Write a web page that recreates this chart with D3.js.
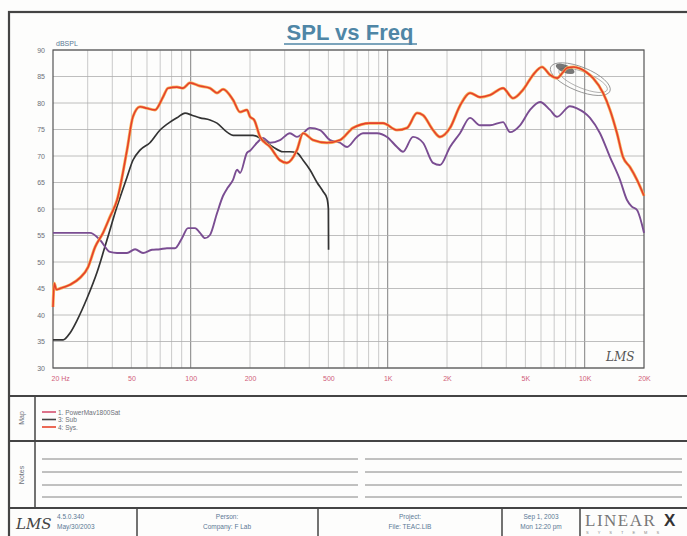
<!DOCTYPE html>
<html>
<head>
<meta charset="utf-8">
<script src="https://cdn.jsdelivr.net/npm/d3@7"></script>
<style>
  body { margin: 0; background: #fff; }
  svg { display: block; font-family: "Liberation Sans", Arial, sans-serif; }
</style>
</head>
<body>
<div id="chart"></div>
<script>
// frequency response readings (Hz, dB SPL)
const sysFreq = [20, 20.3, 20.8, 21.7, 24.4, 27.4, 30.1, 32.7, 35.9, 38.9, 42.3, 47.5, 50.9, 55.3, 60, 65.9, 72.3, 76.7, 85.2, 91.4, 99.2, 111.5, 125.3, 136, 146, 164, 178, 193, 200, 210, 225, 253, 284, 308, 346, 372, 418, 492, 573, 667, 813, 947, 1115, 1253, 1409, 1511, 1698, 1843, 2072, 2328, 2617, 2942, 3306, 3849, 4326, 4864, 5466, 6071, 6666, 7234, 7760, 8131, 8800, 9466, 10200, 11020, 12388, 13440, 14586, 15646, 16980, 18428, 20000];
const sysDb   = [41.5, 46, 44.8, 45, 45.7, 47, 49, 52.8, 55.5, 58.5, 61.7, 71.1, 77.4, 79.3, 79, 78.7, 81.1, 82.8, 83, 82.8, 83.8, 83.2, 82.8, 81.9, 82.6, 80.6, 78.3, 78.7, 77.4, 76.8, 73.6, 71.7, 69.2, 68.7, 71.1, 74.3, 73, 72.5, 73, 75.3, 76.2, 76.2, 74.9, 75.3, 78.1, 77.7, 74.9, 73.6, 75.3, 79.5, 81.9, 81.1, 81.5, 82.8, 80.9, 82.5, 85.3, 86.8, 85.3, 84.7, 85.8, 86.6, 86.8, 86.5, 85.8, 84.7, 81.9, 78.7, 74.3, 69.8, 67.9, 65.5, 62.5];

const satFreq = [20, 30.8, 34.6, 38.9, 42.3, 47.5, 52.2, 57.3, 63.6, 69.9, 75.8, 83.2, 90.3, 96.9, 105.2, 111.5, 118.2, 125.3, 136, 146, 154, 164, 172, 178, 193, 200, 217, 233, 253, 284, 319, 346, 372, 403, 453, 510, 573, 622, 698, 749, 883, 992, 1115, 1196, 1344, 1511, 1698, 1843, 2072, 2328, 2617, 2942, 3306, 3849, 4176, 4696, 5278, 5932, 6666, 7234, 8421, 9140, 10638, 11958, 13440, 15106, 16394, 17300, 18428, 20000];
const satDb   = [55.5, 55.5, 54.2, 51.9, 51.7, 51.7, 52.4, 51.7, 52.3, 52.4, 52.6, 52.6, 54.5, 56.4, 56.4, 55.5, 54.5, 55.1, 59.2, 62.5, 64, 65.5, 67.4, 66.8, 70.6, 71, 72.5, 73.4, 72.5, 73, 74.3, 73.6, 74.3, 75.3, 74.9, 73, 72.5, 71.7, 73.6, 74.3, 74.3, 73.6, 71.7, 70.8, 73.6, 72.5, 68.7, 68.3, 71.7, 74.3, 77.2, 75.8, 75.8, 76.4, 74.5, 75.8, 78.7, 80.2, 78.7, 77.4, 79.4, 79, 77.2, 74.3, 69.8, 65.5, 61.7, 60.5, 59.8, 55.5];

const subFreq = [20, 22.5, 24.4, 26.5, 29.8, 33.5, 37.6, 42.3, 47.5, 50.9, 55.3, 62.1, 69.9, 78.5, 85.2, 93.6, 101.5, 111.5, 125.3, 136, 153, 164, 193, 207, 233, 262, 294, 319, 346, 372, 403, 438, 470, 492, 500, 501];
const subDb   = [35.3, 35.3, 36.6, 39, 43.2, 48.1, 54.2, 60.5, 66, 69.2, 71.1, 72.5, 74.9, 76.4, 77.2, 78.1, 77.7, 77.2, 76.8, 76.2, 74.5, 73.9, 73.9, 73.9, 73, 71.7, 70.8, 70.8, 70.6, 69.2, 67.4, 65, 63.3, 62, 60, 52.3];

const xTickValues = [20, 50, 100, 200, 500, 1000, 2000, 5000, 10000, 20000];
const xTickLabels = ["20  Hz", "50", "100", "200", "500", "1K", "2K", "5K", "10K", "20K"];
const yTickValues = [30, 35, 40, 45, 50, 55, 60, 65, 70, 75, 80, 85, 90];
const gridFreqs = [30, 40, 50, 60, 70, 80, 90, 100, 200, 300, 400, 500, 600, 700, 800, 900, 1000,
  2000, 3000, 4000, 5000, 6000, 7000, 8000, 9000, 10000];
const decadeFreqs = [100, 1000, 10000];

const legendNames = ["1. PowerMav1800Sat", "3: Sub", "4: Sys."];
const legendColors = ["#d5506e", "#444", "#e8452c"];

const W = 687, H = 536;
const plot = { left: 53, top: 50, right: 644, bottom: 368 };

const svg = d3.select("#chart").append("svg")
  .attr("width", W).attr("height", H);

svg.append("rect").attr("width", W).attr("height", H).attr("fill", "#fdfdfc");

const x = d3.scaleLog().domain([20, 20000]).range([plot.left, plot.right]);
const y = d3.scaleLinear().domain([30, 90]).range([plot.bottom, plot.top]);

// outer frame and section lines
const frame = svg.append("g").attr("stroke", "#444").attr("fill", "none");
frame.append("rect").attr("x", 9).attr("y", 12).attr("width", W + 10).attr("height", H)
  .attr("stroke-width", 2.2);
frame.append("line").attr("x1", 9).attr("x2", W).attr("y1", 396).attr("y2", 396).attr("stroke-width", 2);
frame.append("line").attr("x1", 9).attr("x2", W).attr("y1", 441).attr("y2", 441).attr("stroke-width", 2);
frame.append("line").attr("x1", 9).attr("x2", W).attr("y1", 508).attr("y2", 508).attr("stroke-width", 2);
frame.append("line").attr("x1", 35).attr("x2", 35).attr("y1", 396).attr("y2", 508).attr("stroke-width", 1.5);
[137, 318, 502, 580].forEach(v => {
  frame.append("line").attr("x1", v).attr("x2", v).attr("y1", 508).attr("y2", H).attr("stroke-width", 1.5);
});

// title
svg.append("text").attr("x", 350).attr("y", 40).attr("text-anchor", "middle")
  .attr("font-size", 22).attr("font-weight", "bold").attr("fill", "#4f86a6")
  .text("SPL vs Freq");
svg.append("line").attr("x1", 284).attr("x2", 417).attr("y1", 44).attr("y2", 44)
  .attr("stroke", "#4f86a6").attr("stroke-width", 1.5);

// grid
const grid = svg.append("g");
grid.selectAll(".vg").data(gridFreqs).enter().append("line")
  .attr("x1", d => x(d)).attr("x2", d => x(d))
  .attr("y1", plot.top).attr("y2", plot.bottom)
  .attr("stroke", d => decadeFreqs.includes(d) ? "#808080" : "#bdbdbd")
  .attr("stroke-width", d => decadeFreqs.includes(d) ? 1 : 0.8);
grid.selectAll(".hg").data(yTickValues).enter().append("line")
  .attr("x1", plot.left).attr("x2", plot.right)
  .attr("y1", d => y(d)).attr("y2", d => y(d))
  .attr("stroke", "#adadad").attr("stroke-width", 0.8);

svg.append("rect").attr("x", plot.left).attr("y", plot.top)
  .attr("width", plot.right - plot.left).attr("height", plot.bottom - plot.top)
  .attr("fill", "none").attr("stroke", "#555").attr("stroke-width", 1.2);

// axes
const xAxis = d3.axisBottom(x).tickValues(xTickValues).tickSize(0)
  .tickFormat((d, i) => xTickLabels[i]);
const gx = svg.append("g").attr("transform", `translate(0,${plot.bottom + 5})`).call(xAxis);
gx.select(".domain").remove();
gx.selectAll("text").attr("fill", "#d0607a").attr("font-size", 7).attr("font-family", "Liberation Sans, Arial");
gx.selectAll(".tick").filter(d => d === 20).select("text").attr("text-anchor", "start").attr("dx", -2);

const yAxis = d3.axisLeft(y).tickValues(yTickValues).tickSize(0);
const gy = svg.append("g").attr("transform", `translate(${plot.left - 5},0)`).call(yAxis);
gy.select(".domain").remove();
gy.selectAll("text").attr("fill", "#6c7078").attr("font-size", 7).attr("font-family", "Liberation Sans, Arial");

svg.append("text").attr("x", plot.left + 3).attr("y", plot.top - 4)
  .attr("font-size", 7).attr("fill", "#5a7895").text("dBSPL");

// watermark logo near the top right
const logo = svg.append("g").attr("transform", `translate(${x(9500)},${y(84.5)}) rotate(22)`)
  .attr("fill", "none").attr("stroke", "#8a8a8a");
logo.append("ellipse").attr("rx", 32).attr("ry", 12).attr("stroke-width", 0.8);
logo.append("ellipse").attr("rx", 26).attr("ry", 8).attr("stroke-width", 0.6).attr("cx", 3);
logo.append("ellipse").attr("rx", 10).attr("ry", 4).attr("cx", -18).attr("cy", -4)
  .attr("fill", "#555").attr("stroke", "none").attr("opacity", 0.8);

// curves
const line = d3.line().x(d => x(d[0])).y(d => y(d[1])).curve(d3.curveMonotoneX);
const zip = (f, v) => f.map((d, i) => [d, v[i]]);

svg.append("path").datum(zip(subFreq, subDb)).attr("d", line)
  .attr("fill", "none").attr("stroke", "#333").attr("stroke-width", 1.7);
svg.append("path").datum(zip(satFreq, satDb)).attr("d", line)
  .attr("fill", "none").attr("stroke", "#7a4d92").attr("stroke-width", 1.9);
svg.append("path").datum(zip(sysFreq, sysDb)).attr("d", line)
  .attr("fill", "none").attr("stroke", "#f7b25a").attr("stroke-width", 3);
svg.append("path").datum(zip(sysFreq, sysDb)).attr("d", line)
  .attr("fill", "none").attr("stroke", "#e5402c").attr("stroke-width", 1.6);

// LMS signature
svg.append("text").attr("x", 606).attr("y", 361)
  .attr("font-family", "DejaVu Serif, serif").attr("font-style", "italic")
  .attr("font-size", 12).attr("fill", "#555").text("LMS");

// map / notes labels
svg.append("text").attr("transform", "translate(24,418) rotate(-90)")
  .attr("text-anchor", "middle").attr("font-size", 7).attr("fill", "#6c7078").text("Map");
svg.append("text").attr("transform", "translate(24,475) rotate(-90)")
  .attr("text-anchor", "middle").attr("font-size", 7).attr("fill", "#6c7078").text("Notes");

// legend
const leg = svg.append("g").selectAll("g").data(legendNames).enter().append("g")
  .attr("transform", (d, i) => `translate(42,${412 + i * 7.5})`);
leg.append("line").attr("x1", 0).attr("x2", 14).attr("stroke", (d, i) => legendColors[i]).attr("stroke-width", 1.6);
leg.append("text").attr("x", 16).attr("y", 2.5).attr("font-size", 6.5).attr("fill", "#6c7078").text(d => d);

// notes lines
[459, 472, 485, 497].forEach(v => {
  svg.append("line").attr("x1", 42).attr("x2", 358).attr("y1", v).attr("y2", v).attr("stroke", "#666").attr("stroke-width", 0.8);
  svg.append("line").attr("x1", 365).attr("x2", 682).attr("y1", v).attr("y2", v).attr("stroke", "#666").attr("stroke-width", 0.8);
});

// footer
const foot = svg.append("g").attr("font-size", 6.5).attr("fill", "#5a7895");
foot.append("text").attr("x", 16).attr("y", 529).attr("font-family", "DejaVu Serif, serif")
  .attr("font-style", "italic").attr("font-size", 15).attr("fill", "#444").text("LMS");
foot.append("text").attr("x", 57).attr("y", 519).text("4.5.0.340");
foot.append("text").attr("x", 57).attr("y", 529).text("May/30/2003");
foot.append("text").attr("x", 227).attr("y", 519).attr("text-anchor", "middle").text("Person:");
foot.append("text").attr("x", 227).attr("y", 529).attr("text-anchor", "middle").text("Company: F Lab");
foot.append("text").attr("x", 410).attr("y", 519).attr("text-anchor", "middle").text("Project:");
foot.append("text").attr("x", 410).attr("y", 529).attr("text-anchor", "middle").text("File: TEAC.LIB");
foot.append("text").attr("x", 541).attr("y", 519).attr("text-anchor", "middle").text("Sep 1, 2003");
foot.append("text").attr("x", 541).attr("y", 529).attr("text-anchor", "middle").text("Mon 12:20 pm");
foot.append("text").attr("x", 585).attr("y", 526).attr("font-family", "Liberation Serif, serif")
  .attr("font-size", 17).attr("letter-spacing", 1.5).attr("fill", "#777").text("LINEAR");
foot.append("text").attr("x", 664).attr("y", 526).attr("font-family", "Liberation Sans, Arial")
  .attr("font-weight", "bold").attr("font-size", 17).attr("fill", "#333").text("X");
foot.append("text").attr("x", 586).attr("y", 534).attr("font-size", 4).attr("letter-spacing", 9)
  .attr("fill", "#888").text("SYSTEMS");
</script>
</body>
</html>
